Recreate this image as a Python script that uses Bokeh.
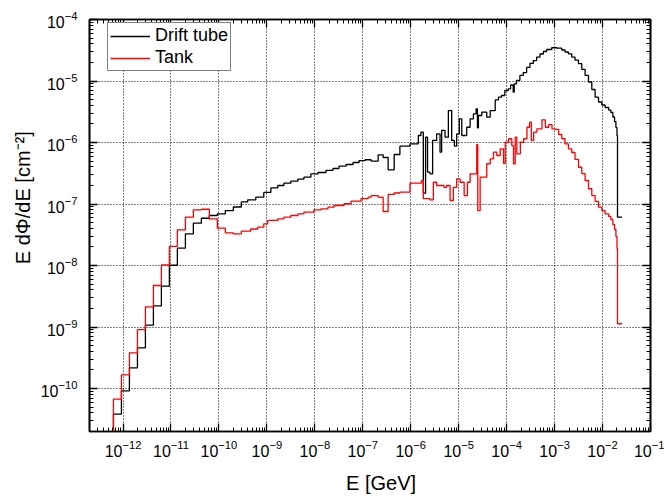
from bokeh.plotting import figure
from bokeh.models import FixedTicker, LogAxis, Range1d
from bokeh.embed import file_html
from bokeh.resources import INLINE

# ---------------- data ----------------
drift_edges = [
    6.31e-13, 9.26e-13, 1.36e-12, 2.0e-12, 2.93e-12, 4.3e-12, 6.31e-12, 9.26e-12,
    1.36e-11, 2.0e-11, 2.93e-11, 4.3e-11, 6.31e-11, 9.26e-11, 1.36e-10, 2.0e-10, 2.93e-10,
    3.98e-10, 5.87e-10, 8.61e-10, 1.21e-9, 1.69e-9, 2.26e-9, 3.16e-9, 4.43e-9, 5.92e-9, 8.28e-9,
    1.16e-8, 1.71e-8, 2.39e-8, 3.19e-8, 4.48e-8, 6.27e-8, 8.37e-8,
    1.12e-7, 1.49e-7, 2.09e-7, 2.66e-7, 3.38e-7, 4.52e-7, 5.94e-7, 9.62e-7,
    1.44e-6, 1.63e-6, 1.83e-6, 2.04e-6, 2.24e-6, 2.52e-6, 2.86e-6, 3.47e-6, 4.08e-6,
    4.41e-6, 5.19e-6, 6.09e-6, 7.14e-6, 8.13e-6, 9.08e-6,
    1.03e-5, 1.16e-5, 1.47e-5, 1.73e-5, 2.03e-5, 2.31e-5, 2.46e-5, 2.58e-5, 3.03e-5,
    3.85e-5, 4.54e-5, 5.78e-5,
    6.77e-5, 7.82e-5, 9.17e-5,
    1.08e-4, 1.21e-4, 1.37e-4, 1.44e-4, 1.61e-4, 1.89e-4, 2.22e-4, 2.61e-4, 3.06e-4,
    3.6e-4, 4.22e-4, 4.95e-4, 5.83e-4, 6.84e-4, 8.7e-4,
    1.11e-3, 1.41e-3, 1.65e-3, 1.94e-3, 2.28e-3, 2.67e-3, 3.15e-3, 3.69e-3, 4.33e-3,
    5.09e-3, 5.97e-3, 7.0e-3, 8.24e-3, 9.67e-3,
    1.13e-2, 1.34e-2, 1.49e-2, 1.64e-2, 1.78e-2, 1.90e-2, 2.0e-2, 2.05e-2,
    2.55e-2,
]
drift_values = [
    3.82e-11, 9.18e-11, 2.17e-10, 4.59e-10, 1.07e-9, 2.21e-9, 4.61e-9, 1.01e-8,
    1.91e-8, 3.27e-8, 4.88e-8, 5.87e-8, 6.50e-8, 6.93e-8, 7.83e-8, 8.94e-8, 1.08e-7,
    1.17e-7, 1.29e-7, 1.54e-7, 1.83e-7, 2.0e-7, 2.18e-7, 2.35e-7, 2.53e-7, 2.73e-7, 3.08e-7,
    3.25e-7, 3.51e-7, 3.78e-7, 4.12e-7, 4.39e-7, 4.73e-7, 5.09e-7,
    5.24e-7, 4.97e-7, 6.31e-7, 5.70e-7, 3.60e-7, 6.38e-7, 8.71e-7, 9.53e-7,
    1.30e-6, 1.47e-6, 1.50e-7, 1.22e-6, 3.29e-7, 3.10e-7, 1.08e-6, 1.38e-6, 6.95e-7,
    1.57e-6, 1.22e-6, 3.31e-6, 1.08e-6, 8.71e-7, 1.38e-6,
    2.43e-6, 1.30e-6, 1.77e-6, 2.43e-6, 2.93e-6, 3.53e-6, 1.73e-6, 2.75e-6, 3.11e-6,
    2.58e-6, 3.31e-6, 4.94e-6,
    5.46e-6, 5.81e-6, 7.01e-6,
    7.46e-6, 8.61e-6, 6.58e-6, 9.0e-6, 1.02e-5, 1.23e-5, 1.37e-5, 1.66e-5, 1.93e-5,
    2.15e-5, 2.45e-5, 2.75e-5, 3.02e-5, 3.25e-5, 3.47e-5,
    3.42e-5, 3.19e-5, 2.96e-5, 2.77e-5, 2.45e-5, 2.19e-5, 1.91e-5, 1.54e-5, 1.23e-5,
    9.64e-6, 7.28e-6, 5.46e-6, 4.56e-6, 4.07e-6,
    3.71e-6, 3.37e-6, 3.08e-6, 2.60e-6, 2.19e-6, 1.75e-6, 1.30e-6, 6.10e-8,
]

tank_edges = [
    6.31e-13, 9.26e-13, 1.36e-12, 2.0e-12, 2.93e-12, 4.3e-12, 6.31e-12, 9.26e-12,
    1.36e-11, 2.0e-11, 2.93e-11, 4.3e-11, 6.31e-11, 9.26e-11, 1.36e-10, 2.0e-10,
    2.93e-10, 4.60e-10, 6.45e-10, 8.61e-10, 1.04e-9, 1.69e-9, 2.26e-9, 3.16e-9, 4.43e-9,
    5.92e-9, 9.57e-9, 1.34e-8, 1.88e-8, 2.51e-8, 4.06e-8, 5.69e-8, 9.21e-8,
    1.29e-7, 1.49e-7, 2.09e-7, 2.66e-7, 3.38e-7, 4.52e-7, 5.94e-7, 9.62e-7,
    1.68e-6, 1.83e-6, 2.52e-6, 2.96e-6, 3.47e-6, 4.95e-6, 5.61e-6, 6.61e-6, 7.74e-6, 9.08e-6,
    1.07e-5, 1.30e-5, 1.52e-5, 1.73e-5, 2.38e-5, 2.50e-5, 2.80e-5, 3.85e-5, 4.54e-5,
    5.32e-5, 6.24e-5, 7.35e-5, 8.61e-5, 9.35e-5,
    1.10e-4, 1.28e-4, 1.39e-4, 1.51e-4, 1.63e-4, 1.93e-4, 2.26e-4, 2.65e-4, 3.01e-4,
    3.27e-4, 3.66e-4, 4.28e-4, 5.45e-4, 6.42e-4, 7.53e-4, 8.83e-4,
    1.04e-3, 1.22e-3, 1.41e-3, 1.65e-3, 1.94e-3, 2.28e-3, 2.67e-3, 3.15e-3, 3.69e-3,
    4.33e-3, 5.09e-3, 5.97e-3, 7.0e-3, 8.24e-3, 9.67e-3,
    1.13e-2, 1.34e-2, 1.49e-2, 1.64e-2, 1.78e-2, 1.90e-2, 2.0e-2, 2.05e-2,
    2.55e-2,
]
tank_values = [
    6.70e-11, 1.66e-10, 3.80e-10, 9.10e-10, 2.13e-9, 4.73e-9, 1.02e-8, 2.04e-8,
    3.80e-8, 6.10e-8, 8.05e-8, 8.22e-8, 5.74e-8, 4.05e-8, 3.40e-8, 3.27e-8,
    3.61e-8, 3.92e-8, 4.20e-8, 4.76e-8, 5.40e-8, 5.74e-8, 6.10e-8, 6.50e-8, 6.93e-8,
    7.36e-8, 8.05e-8, 8.36e-8, 8.87e-8, 9.45e-8, 1.01e-7, 1.11e-7, 1.22e-7,
    1.29e-7, 1.37e-7, 1.29e-7, 7.55e-8, 1.43e-7, 1.51e-7, 1.56e-7, 2.18e-7,
    2.41e-7, 1.22e-7, 1.17e-7, 2.26e-7, 2.0e-7, 1.87e-7, 2.0e-7, 1.14e-7, 1.87e-7, 2.57e-7,
    2.26e-7, 1.37e-7, 2.26e-7, 3.10e-7, 9.27e-7, 7.83e-8, 2.73e-7, 4.51e-7, 5.43e-7,
    6.95e-7, 6.15e-7, 7.90e-7, 4.60e-7, 1.01e-6,
    1.15e-6, 8.93e-7, 4.51e-7, 1.22e-6, 6.55e-7, 1.01e-6, 1.15e-6, 1.77e-6, 2.14e-6,
    1.08e-6, 1.47e-6, 1.67e-6, 2.34e-6, 1.77e-6, 1.96e-6, 1.67e-6,
    1.63e-6, 1.35e-6, 1.15e-6, 9.53e-7, 7.90e-7, 6.88e-7, 5.30e-7, 3.96e-7, 3.13e-7,
    2.41e-7, 1.77e-7, 1.37e-7, 1.10e-7, 8.87e-8, 7.83e-8,
    6.93e-8, 6.27e-8, 5.60e-8, 4.64e-8, 3.85e-8, 2.96e-8, 1.89e-8, 1.13e-9,
]

x_tick_exponents = list(range(-12, 0))     # 10^-12 ... 10^-1
y_tick_exponents = list(range(-10, -3))    # 10^-10 ... 10^-4
x_limits = (2.0e-13, 1.0e-1)
y_limits = (2.0e-11, 1.0e-4)
x_title = "E [GeV]"
y_title = "E dΦ/dE [cm⁻²]"

FONT = "Liberation Sans"
NBSP = "\u00a0"


def histogram_outline(edges, values, floor):
    n = min(len(values), len(edges) - 1)
    xs = [edges[0]]
    ys = [floor]
    for i in range(n):
        xs += [edges[i], edges[i + 1]]
        ys += [values[i], values[i]]
    return xs, ys


p = figure(
    width=664, height=496,
    x_axis_type="log", y_axis_type="log",
    x_range=Range1d(*x_limits), y_range=Range1d(*y_limits),
    output_backend="svg", toolbar_location=None,
    min_border_left=89, min_border_right=14, min_border_top=19, min_border_bottom=65,
)
p.background_fill_color = "white"
p.border_fill_color = "white"
p.outline_line_color = "black"
p.outline_line_width = 1.6

x_major = [10.0 ** e for e in x_tick_exponents]
y_major = [10.0 ** e for e in y_tick_exponents]
x_minor = [m * 10.0 ** e for e in range(-13, -1) for m in range(2, 10)]
y_minor = [m * 10.0 ** e for e in range(-11, -4) for m in range(2, 10)]
xticker = FixedTicker(ticks=x_major, minor_ticks=x_minor)
yticker = FixedTicker(ticks=y_major, minor_ticks=y_minor)


def style_axis(ax, show_labels):
    ax.axis_line_color = "black"
    ax.axis_line_width = 1.6
    ax.major_tick_in = 8
    ax.major_tick_out = 0
    ax.minor_tick_in = 4
    ax.minor_tick_out = 0
    ax.major_tick_line_color = "black"
    ax.major_tick_line_width = 1.3
    ax.minor_tick_line_color = "black"
    ax.minor_tick_line_width = 1
    ax.major_label_text_font = FONT
    ax.major_label_text_color = "black"
    ax.axis_label_text_font = FONT
    ax.axis_label_text_font_style = "normal"
    ax.axis_label_text_font_size = "20px"
    ax.axis_label_text_color = "black"
    if show_labels:
        ax.major_label_text_font_size = "16px"
    else:
        ax.major_label_text_font_size = "1px"
        ax.major_label_text_alpha = 0.0
        ax.major_label_standoff = 0


xa = p.xaxis[0]
xa.ticker = xticker
style_axis(xa, True)
xa.major_label_standoff = 8
# the title sits a little right of the frame centre in the reference
xa.axis_label = NBSP * 4 + x_title
xa.axis_label_standoff = 12

ya = p.yaxis[0]
ya.ticker = yticker
style_axis(ya, True)
ya.major_label_standoff = 12
# the title sits above the frame centre in the reference
ya.axis_label = NBSP * 10 + y_title
ya.axis_label_standoff = 4

top = LogAxis(ticker=xticker)
style_axis(top, False)
p.add_layout(top, "above")
right = LogAxis(ticker=yticker)
style_axis(right, False)
p.add_layout(right, "right")

for g, t in ((p.xgrid[0], xticker), (p.ygrid[0], yticker)):
    g.ticker = t
    g.grid_line_color = "black"
    g.grid_line_dash = "1 2"
    g.grid_line_width = 1
    g.grid_line_alpha = 1.0

floor = 1e-13
bx, by = histogram_outline(drift_edges, drift_values, floor)
rx, ry = histogram_outline(tank_edges, tank_values, floor)
p.line(bx, by, line_color="black", line_width=1.3, legend_label="Drift tube")
p.line(rx, ry, line_color="#ff0000", line_width=1.3, legend_label="Tank")

lg = p.legend[0]
lg.location = (18, 360)
lg.margin = 0
lg.padding = 2
lg.spacing = 1
lg.glyph_width = 40
lg.glyph_height = 20
lg.label_height = 20
lg.label_standoff = 5
lg.label_text_font = FONT
lg.label_text_font_size = "18px"
lg.label_text_color = "black"
lg.border_line_color = "black"
lg.border_line_width = 1
lg.background_fill_color = "white"
lg.background_fill_alpha = 1.0

open("out.html", "w").write(file_html(p, INLINE))
